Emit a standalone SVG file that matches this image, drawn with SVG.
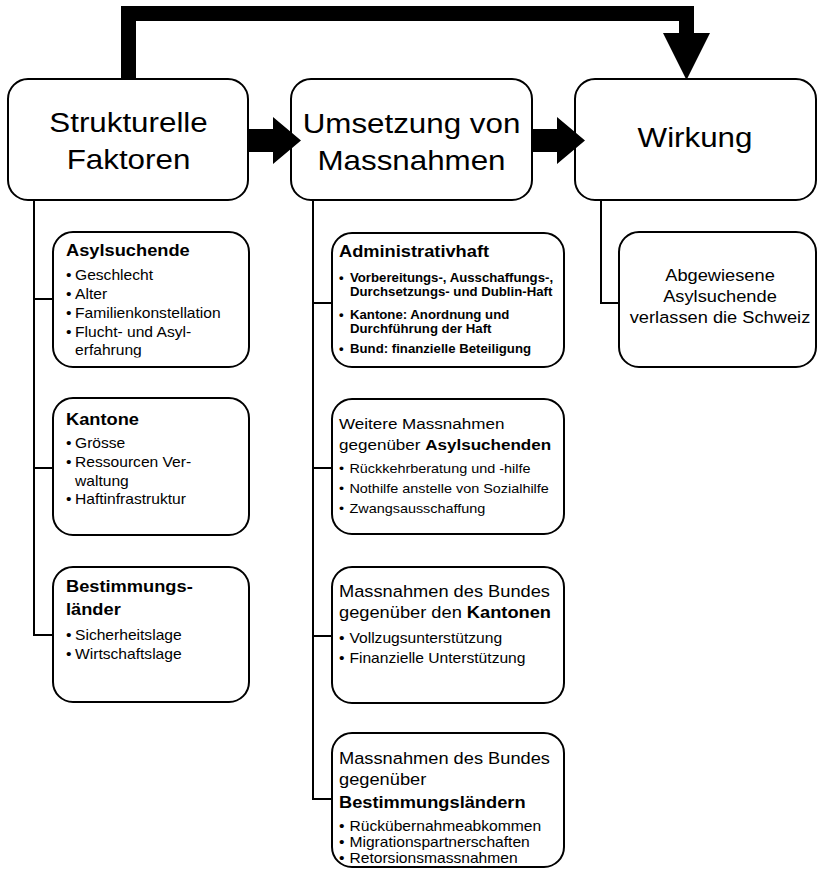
<svg xmlns="http://www.w3.org/2000/svg" width="817" height="873" viewBox="0 0 817 873">
<defs>
<style>
.box{fill:#fff;stroke:#000;stroke-width:2}
.ln{fill:none;stroke:#000;stroke-width:2}
.thick{fill:none;stroke:#000;stroke-width:15;stroke-linejoin:miter}
.hd{fill:#000}
text{font-family:"Liberation Sans",Arial,Helvetica,sans-serif;fill:#000}
.big{font-size:28.5px}
.ti{font-size:16.6px}
.tb{font-size:16.6px;font-weight:bold}
.bu{font-size:14.2px}
.ti2{font-size:15.5px}
.bu2{font-size:13.1px}
.bb{font-size:12px;font-weight:bold}
.mid{text-anchor:middle}
</style>
<clipPath id="c1" clipPathUnits="userSpaceOnUse"><rect x="-100" y="0" width="400" height="357.5"/></clipPath>
</defs>
<rect width="817" height="873" fill="#fff"/>

<g id="n-strukturelle">
<rect class="box" x="8" y="79" width="240" height="121" rx="20"/>
<g transform="translate(128.5 0) scale(1.1 1)">
<text class="big mid" x="0" y="132">Strukturelle</text>
<text class="big mid" x="0" y="169">Faktoren</text>
</g>
</g>

<g id="n-umsetzung">
<rect class="box" x="291" y="79" width="241" height="121" rx="20"/>
<g transform="translate(411.5 0) scale(1.1 1)">
<text class="big mid" x="0" y="133">Umsetzung von</text>
<text class="big mid" x="0" y="170.5">Massnahmen</text>
</g>
</g>

<g id="n-wirkung">
<rect class="box" x="575" y="79" width="241" height="121" rx="20"/>
<g transform="translate(695 0) scale(1.1 1)">
<text class="big mid" x="0" y="147">Wirkung</text>
</g>
</g>

<g id="n-asylsuchende">
<rect class="box" x="53" y="232" width="196" height="135" rx="20"/>
<g transform="translate(66 0) scale(1.1 1)">
<text class="tb" x="0" y="256">Asylsuchende</text>
<text class="bu" y="280"><tspan x="0">•</tspan><tspan x="8.2">Geschlecht</tspan></text>
<text class="bu" y="299.5"><tspan x="0">•</tspan><tspan x="8.2">Alter</tspan></text>
<text class="bu" y="318.5"><tspan x="0">•</tspan><tspan x="8.2">Familienkonstellation</tspan></text>
<text class="bu" y="337"><tspan x="0">•</tspan><tspan x="8.2">Flucht- und Asyl-</tspan></text>
<text class="bu" x="8.2" y="355.5" clip-path="url(#c1)">erfahrung</text>
</g>
</g>

<g id="n-kantone">
<rect class="box" x="53" y="398" width="196" height="137" rx="20"/>
<g transform="translate(66 0) scale(1.1 1)">
<text class="tb" x="0" y="425">Kantone</text>
<text class="bu" y="448"><tspan x="0">•</tspan><tspan x="8.2">Grösse</tspan></text>
<text class="bu" y="467.5"><tspan x="0">•</tspan><tspan x="8.2">Ressourcen Ver-</tspan></text>
<text class="bu" x="8.2" y="486">waltung</text>
<text class="bu" y="504.5"><tspan x="0">•</tspan><tspan x="8.2">Haftinfrastruktur</tspan></text>
</g>
</g>

<g id="n-bestimmungslaender">
<rect class="box" x="53" y="567" width="196" height="135" rx="20"/>
<g transform="translate(66 0) scale(1.1 1)">
<text class="tb" x="0" y="592">Bestimmungs-</text>
<text class="tb" x="0" y="615">länder</text>
<text class="bu" y="640"><tspan x="0">•</tspan><tspan x="8.2">Sicherheitslage</tspan></text>
<text class="bu" y="659"><tspan x="0">•</tspan><tspan x="8.2">Wirtschaftslage</tspan></text>
</g>
</g>

<g id="n-administrativhaft">
<rect class="box" x="332" y="233" width="232" height="134" rx="20"/>
<g transform="translate(339 0) scale(1.1 1)">
<text class="tb" x="0" y="257">Administrativhaft</text>
<text class="bb" y="282"><tspan x="0">•</tspan><tspan x="10">Vorbereitungs-, Ausschaffungs-,</tspan></text>
<text class="bb" x="10" y="296">Durchsetzungs- und Dublin-Haft</text>
<text class="bb" y="319"><tspan x="0">•</tspan><tspan x="10">Kantone: Anordnung und</tspan></text>
<text class="bb" x="10" y="333">Durchführung der Haft</text>
<text class="bb" y="353"><tspan x="0">•</tspan><tspan x="10">Bund: finanzielle Beteiligung</tspan></text>
</g>
</g>

<g id="n-weitere">
<rect class="box" x="332" y="399" width="232" height="135" rx="20"/>
<g transform="translate(339 0) scale(1.1 1)">
<text class="ti2" x="0" y="429">Weitere Massnahmen</text>
<text class="ti2" x="0" y="450">gegenüber <tspan font-weight="bold">Asylsuchenden</tspan></text>
<text class="bu2" y="473"><tspan x="0">•</tspan><tspan x="9.5">Rückkehrberatung und -hilfe</tspan></text>
<text class="bu2" y="493"><tspan x="0">•</tspan><tspan x="9.5">Nothilfe anstelle von Sozialhilfe</tspan></text>
<text class="bu2" y="513"><tspan x="0">•</tspan><tspan x="9.5">Zwangsausschaffung</tspan></text>
</g>
</g>

<g id="n-bund-kantone">
<rect class="box" x="332" y="567" width="232" height="136" rx="20"/>
<g transform="translate(339 0) scale(1.1 1)">
<text class="ti" x="0" y="597">Massnahmen des Bundes</text>
<text class="ti" x="0" y="618.5">gegenüber den <tspan font-weight="bold">Kantonen</tspan></text>
<text class="bu" y="643"><tspan x="0">•</tspan><tspan x="9.5">Vollzugsunterstützung</tspan></text>
<text class="bu" y="663"><tspan x="0">•</tspan><tspan x="9.5">Finanzielle Unterstützung</tspan></text>
</g>
</g>

<g id="n-bund-bestimmungslaender">
<rect class="box" x="332" y="733" width="232" height="134" rx="20"/>
<g transform="translate(339 0) scale(1.1 1)">
<text class="ti" x="0" y="764">Massnahmen des Bundes</text>
<text class="ti" x="0" y="785.5">gegenüber</text>
<text class="tb" x="0" y="808">Bestimmungsländern</text>
<text class="bu" y="831"><tspan x="0">•</tspan><tspan x="9.5">Rückübernahmeabkommen</tspan></text>
<text class="bu" y="847.5"><tspan x="0">•</tspan><tspan x="9.5">Migrationspartnerschaften</tspan></text>
<text class="bu" y="863"><tspan x="0">•</tspan><tspan x="9.5">Retorsionsmassnahmen</tspan></text>
</g>
</g>

<g id="n-abgewiesene">
<rect class="box" x="619" y="232" width="197" height="135" rx="20"/>
<g transform="translate(720 0) scale(1.1 1)">
<text class="ti mid" x="0" y="281">Abgewiesene</text>
<text class="ti mid" x="0" y="302">Asylsuchende</text>
<text class="ti mid" x="0" y="323">verlassen die Schweiz</text>
</g>
</g>

<g id="connectors">
<path class="ln" d="M34 201 V635 H53 M34 299 H53 M34 468 H53"/>
<path class="ln" d="M313 201 V799 H332 M313 303 H332 M313 468 H332 M313 636 H332"/>
<path class="ln" d="M601 201 V303 H619"/>
<path class="thick" d="M128.5 80 V13.5 H686.5 V34"/>
<polygon class="hd" points="663,33 710,33 686.5,80"/>
<polygon class="hd" points="248,129 273,129 273,117 301,140.5 273,164 273,152 248,152"/>
<polygon class="hd" points="532,129 557,129 557,117 585,140.5 557,164 557,152 532,152"/>
</g>
</svg>
